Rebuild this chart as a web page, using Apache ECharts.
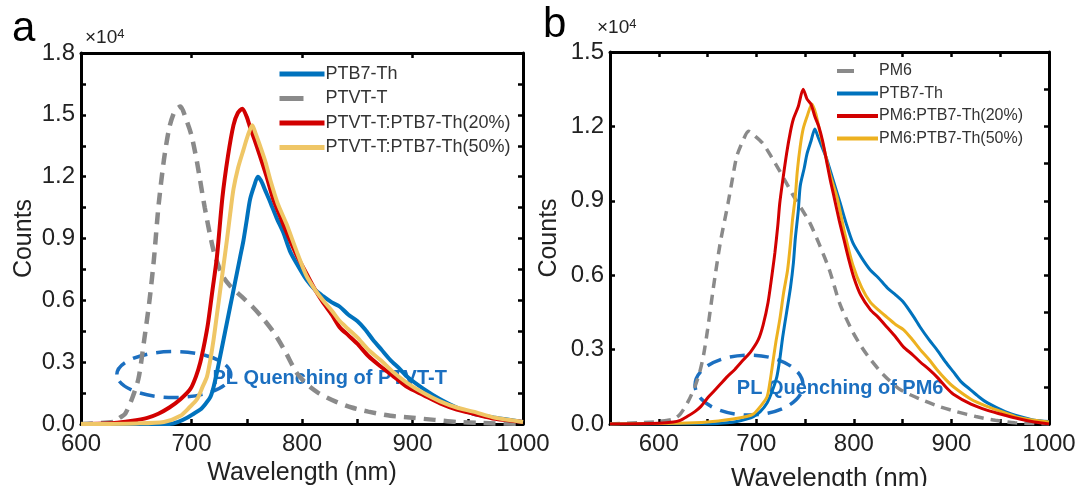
<!DOCTYPE html>
<html><head><meta charset="utf-8">
<script src="https://cdn.jsdelivr.net/npm/echarts@6/dist/echarts.min.js"></script>
<style>html,body{margin:0;padding:0;background:#fff}#c{width:1081px;height:486px}</style>
</head><body><div id="c"></div>
<script>
// ---------- Panel a (values in units of 10^4 counts) ----------
const aGrayX = [600,630,635,640,646,652,657,662,666,670,675,680,685,690,695,700,705,712,720,728,735,745,755,765,775,785,795,805,815,830,845,860,880,900,920,940,960,1000];
const aGrayY = [0,0.01,0.03,0.05,0.12,0.22,0.40,0.60,0.80,1.05,1.28,1.44,1.52,1.54,1.48,1.40,1.27,1.05,0.84,0.72,0.67,0.62,0.57,0.51,0.44,0.35,0.25,0.19,0.15,0.11,0.08,0.06,0.04,0.03,0.02,0.01,0.005,0];
const aRedX = [600,630,645,660,670,680,690,699,704,708,712,715,719,723,728,733,738,742,746,750,753,757,762,768,774,780,786,795,804,812,819,827,834,842,850,860,871,883,895,910,925,940,955,975,1000];
const aRedY = [0,0.005,0.015,0.03,0.05,0.08,0.12,0.17,0.23,0.30,0.40,0.49,0.65,0.81,1.10,1.30,1.45,1.51,1.53,1.49,1.44,1.38,1.30,1.20,1.09,1.01,0.93,0.82,0.73,0.65,0.59,0.53,0.47,0.43,0.39,0.33,0.28,0.23,0.18,0.14,0.10,0.07,0.05,0.025,0.01];
const aYelX = [600,650,675,690,698,705,710,714,717,720,723,726,729,732,735,738,742,747,751,755,758,762,767,771,778,786,795,804,812,819,827,834,842,850,860,871,883,895,910,925,940,955,975,1000];
const aYelY = [0,0.003,0.01,0.04,0.08,0.12,0.18,0.23,0.31,0.41,0.53,0.65,0.77,0.89,1.02,1.14,1.24,1.33,1.40,1.45,1.41,1.35,1.27,1.19,1.07,0.97,0.84,0.72,0.65,0.60,0.55,0.50,0.46,0.42,0.36,0.31,0.25,0.20,0.15,0.11,0.08,0.06,0.03,0.01];
const aBlueX = [600,680,688,696,702,708,713,717,720,723,726,729,732,735,738,741,744,747,750,753,757,760,763,767,771,777,783,789,795,804,812,819,827,834,842,850,857,864,872,880,888,895,910,925,940,955,975,1000];
const aBlueY = [0,0,0.01,0.03,0.05,0.07,0.10,0.13,0.18,0.25,0.33,0.41,0.49,0.57,0.65,0.73,0.81,0.89,0.99,1.09,1.16,1.20,1.18,1.13,1.08,1.00,0.93,0.84,0.78,0.70,0.65,0.62,0.59,0.57,0.53,0.50,0.46,0.41,0.36,0.31,0.27,0.23,0.17,0.12,0.08,0.05,0.03,0.01];

// ---------- Panel b ----------
const bGrayX = [550,580,600,615,622,630,637,642,646,650,656,663,671,676,680,686,692,699,707,715,724,731,738,746,755,765,775,786,799,808,817,830,847,868,888,905,925,945,965,1000];
const bGrayY = [0,0.005,0.01,0.02,0.04,0.09,0.15,0.21,0.28,0.38,0.55,0.73,0.89,1.00,1.08,1.14,1.18,1.16,1.13,1.08,1.02,0.97,0.92,0.87,0.81,0.72,0.62,0.48,0.37,0.31,0.26,0.20,0.14,0.10,0.07,0.05,0.03,0.015,0.005,0];
const bRedX = [550,600,615,622,629,637,643,649,656,663,670,678,687,694,702,707,712,716,719,722,724,727,731,735,738,743,748,752,756,760,764,768,772,776,780,785,790,795,800,807,817,825,834,843,851,860,868,877,885,894,902,920,937,955,970,985,1000];
const bRedY = [0,0.003,0.008,0.015,0.03,0.05,0.07,0.10,0.13,0.16,0.19,0.22,0.26,0.29,0.34,0.40,0.49,0.60,0.69,0.80,0.89,0.98,1.09,1.18,1.23,1.28,1.35,1.31,1.29,1.24,1.20,1.14,1.06,0.98,0.91,0.82,0.74,0.66,0.59,0.52,0.46,0.43,0.39,0.35,0.31,0.28,0.25,0.22,0.19,0.15,0.12,0.08,0.055,0.035,0.02,0.008,0];
const bYelX = [550,620,650,676,690,697,704,711,714,717,720,724,728,732,735,737,740,742,745,748,752,757,761,765,770,776,783,790,799,808,817,825,834,843,851,860,868,877,885,894,902,920,937,955,970,985,1000];
const bYelY = [0,0.003,0.008,0.02,0.03,0.04,0.07,0.11,0.17,0.25,0.33,0.42,0.53,0.62,0.73,0.82,0.92,1.02,1.12,1.19,1.24,1.29,1.25,1.18,1.10,1.00,0.91,0.78,0.64,0.55,0.49,0.46,0.43,0.40,0.38,0.34,0.30,0.26,0.22,0.18,0.15,0.10,0.07,0.045,0.025,0.015,0.008];
const bBlueX = [550,650,670,680,690,697,704,711,716,721,724,727,731,735,738,740,743,745,749,752,756,760,763,767,772,779,786,792,799,808,817,825,834,843,851,860,868,877,885,894,902,910,919,928,937,955,970,985,1000];
const bBlueY = [0,0,0.005,0.01,0.02,0.03,0.05,0.085,0.13,0.19,0.26,0.35,0.45,0.55,0.65,0.75,0.86,0.96,1.03,1.09,1.14,1.19,1.16,1.12,1.07,0.98,0.89,0.81,0.73,0.67,0.62,0.59,0.55,0.52,0.49,0.44,0.39,0.34,0.30,0.25,0.21,0.17,0.14,0.11,0.085,0.05,0.03,0.015,0.01];

// ---------- names / ticks ----------
const aNames = ['PTB7-Th','PTVT-T','PTVT-T:PTB7-Th(20%)','PTVT-T:PTB7-Th(50%)'];
const bNames = ['PM6','PTB7-Th ','PM6:PTB7-Th(20%)','PM6:PTB7-Th(50%)'];
const aXRange = [600, 1000];
const bXRange = [550, 1000];
const aYRange = [0, 1.8];
const bYRange = [0, 1.5];
const yStep = 0.3;
const aNote = {text: 'PL Quenching of PTVT-T', at: [719, 0.22], ellipse: [684, 0.24]};
const bNote = {text: 'PL Quenching of PM6', at: [680, 0.145], ellipse: [692.5, 0.157]};

const C = {blue:'#0072BD', red:'#D20000', yelA:'#EFC666', yelB:'#EDB120', gray:'#8a8a8a', note:'#1b6fc0'};
const FONT = '"Liberation Sans", Arial, sans-serif';

function pairs(xs, ys){ return xs.map((x,i)=>[x, ys[i]]); }

function xAxisPair(grid, range, topInterval){
  const bottom = {
    type:'value', gridIndex:grid, position:'bottom', min:range[0], max:range[1], interval:50,
    axisLine:{show:true, onZero:false, lineStyle:{color:'#000', width:3}},
    axisTick:{show:true, inside:true, length:5, lineStyle:{color:'#000', width:2.5}},
    splitLine:{show:false},
    axisLabel:{show:true, margin:8, fontSize:24, fontFamily:FONT, color:'#222',
      formatter:v => (Math.round(v) % 100 === 0 ? String(Math.round(v)) : '')},
    name:'Wavelength (nm)', nameLocation:'middle', nameGap: grid===0 ? 32 : 42,
    nameTextStyle:{fontSize: grid===0 ? 25 : 26, fontFamily:FONT, color:'#222'}
  };
  const top = {
    type:'value', gridIndex:grid, position:'top', min:range[0], max:range[1], interval:topInterval,
    axisLine:{show:true, onZero:false, lineStyle:{color:'#000', width:3}},
    axisTick:{show:true, inside:true, length:5, lineStyle:{color:'#000', width:2.5}},
    splitLine:{show:false}, axisLabel:{show:false}
  };
  return [bottom, top];
}
function yAxisPair(grid, range, minor){
  const left = {
    type:'value', gridIndex:grid, position:'left', min:range[0], max:range[1], interval:yStep,
    axisLine:{show:true, onZero:false, lineStyle:{color:'#000', width:3}},
    axisTick:{show:true, inside:true, length:5, lineStyle:{color:'#000', width:2.5}},
    minorTick:{show:minor, splitNumber:2, length:5, lineStyle:{color:'#000', width:2.5}},
    splitLine:{show:false}, minorSplitLine:{show:false},
    axisLabel:{show:true, margin:6, fontSize:24, fontFamily:FONT, color:'#222', formatter:v=>v.toFixed(1)},
    name:'Counts', nameLocation:'middle', nameRotate:90, nameGap: grid===0 ? 44 : 48,
    nameTextStyle:{fontSize:25, fontFamily:FONT, color:'#222'}
  };
  const right = {
    type:'value', gridIndex:grid, position:'right', min:range[0], max:range[1], interval:yStep/2,
    axisLine:{show:true, onZero:false, lineStyle:{color:'#000', width:3}},
    axisTick:{show:true, inside:true, length:5, lineStyle:{color:'#000', width:2.5}},
    splitLine:{show:false}, axisLabel:{show:false}
  };
  return [left, right];
}

function line(name, xs, ys, grid, color, width, dash, z){
  return {
    type:'line', name, xAxisIndex:grid*2, yAxisIndex:grid*2, data:pairs(xs, ys),
    showSymbol:false, symbol:'none', smooth:0.25, z,
    lineStyle:{color, width, type: dash || 'solid', cap:'butt'},
    itemStyle:{color}, emphasis:{disabled:true}
  };
}

const chart = echarts.init(document.getElementById('c'), null, {renderer:'canvas'});

const option = {
  animation:false,
  backgroundColor:'#fff',
  grid:[
    {left:81, top:53, width:442, height:371, containLabel:false, outerBoundsMode:'none'},
    {left:610, top:52, width:439, height:372, containLabel:false, outerBoundsMode:'none'}
  ],
  xAxis:[...xAxisPair(0, aXRange, 100), ...xAxisPair(1, bXRange, 50)],
  yAxis:[...yAxisPair(0, aYRange, true), ...yAxisPair(1, bYRange, false)],
  legend:[
    {
      orient:'vertical', left:277, top:64, padding:0, itemGap:4.5, itemWidth:45, itemHeight:14,
      selectedMode:false,
      lineStyle:{width:5},
      itemStyle:{opacity:0, borderWidth:0},
      textStyle:{fontSize:18, fontFamily:FONT, color:'#333', lineHeight:20, padding:[0,0,0,-4]},
      data:[
        {name:aNames[0]},
        {name:aNames[1], lineStyle:{type:[24,60], width:5}},
        {name:aNames[2]},
        {name:aNames[3]}
      ]
    },
    {
      orient:'vertical', left:835, top:62, padding:0, itemGap:4.5, itemWidth:41, itemHeight:12,
      selectedMode:false,
      lineStyle:{width:4},
      itemStyle:{opacity:0, borderWidth:0},
      textStyle:{fontSize:16, fontFamily:FONT, color:'#333', lineHeight:18, padding:[0,0,0,-4]},
      data:[
        {name:bNames[0], lineStyle:{type:[17,60], width:4}},
        {name:bNames[1]},
        {name:bNames[2]},
        {name:bNames[3]}
      ]
    }
  ],
  series:[
    line(aNames[0], aBlueX, aBlueY, 0, C.blue, 4, null, 3),
    line(aNames[1], aGrayX, aGrayY, 0, C.gray, 4.5, [12,8], 2),
    line(aNames[2], aRedX, aRedY, 0, C.red, 4, null, 4),
    line(aNames[3], aYelX, aYelY, 0, C.yelA, 4, null, 5),
    line(bNames[0], bGrayX, bGrayY, 1, C.gray, 3.5, [10,7], 2),
    line(bNames[1], bBlueX, bBlueY, 1, C.blue, 3, null, 3),
    line(bNames[2], bRedX, bRedY, 1, C.red, 3, null, 5),
    line(bNames[3], bYelX, bYelY, 1, C.yelB, 3, null, 4)
  ]
};
chart.setOption(option);

// annotations positioned through the axes
function px(grid, pt){ return chart.convertToPixel({xAxisIndex:grid*2, yAxisIndex:grid*2}, pt); }
const ea = px(0, aNote.ellipse), ta = px(0, aNote.at);
const eb = px(1, bNote.ellipse), tb = px(1, bNote.at);
const sup = {s:{fontSize:13, verticalAlign:'top', padding:[0,0,7,0], fontFamily:FONT}};
chart.setOption({
  graphic:[
    {type:'text', left:12, top:8, style:{text:'a', fontSize:42, fontFamily:FONT, fill:'#000'}},
    {type:'text', left:543, top:4, style:{text:'b', fontSize:42, fontFamily:FONT, fill:'#000'}},
    {type:'text', left:85, top:28, style:{text:'×10{s|4}', fontSize:19, fontFamily:FONT, fill:'#222', rich:sup}},
    {type:'text', left:597, top:18, style:{text:'×10{s|4}', fontSize:19, fontFamily:FONT, fill:'#222', rich:sup}},
    {type:'ellipse', z:1, shape:{cx:ea[0], cy:ea[1], rx:57, ry:23},
      style:{fill:null, stroke:C.note, lineWidth:3.5, lineDash:[15,9]}},
    {type:'ellipse', z:1, shape:{cx:eb[0], cy:eb[1], rx:54, ry:30},
      style:{fill:null, stroke:C.note, lineWidth:3.5, lineDash:[15,9]}},
    {type:'text', z:1, x:ta[0], y:ta[1], style:{text:aNote.text, fontSize:20, fontWeight:'bold', fontFamily:FONT, fill:C.note, verticalAlign:'middle'}},
    {type:'text', z:1, x:tb[0], y:tb[1], style:{text:bNote.text, fontSize:20, fontWeight:'bold', fontFamily:FONT, fill:C.note, verticalAlign:'middle'}}
  ]
});
</script></body></html>
